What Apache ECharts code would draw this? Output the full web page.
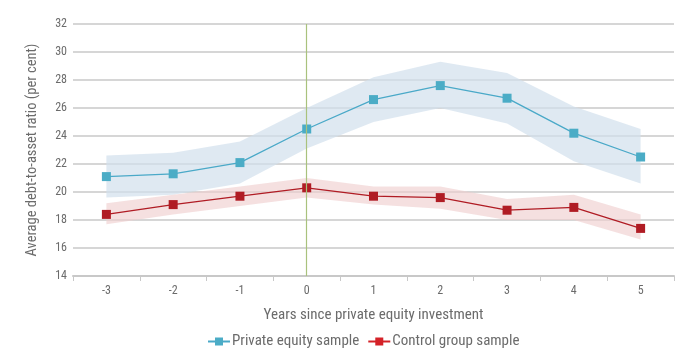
<!DOCTYPE html>
<html>
<head>
<meta charset="utf-8">
<script src="https://cdn.jsdelivr.net/npm/echarts@6/dist/echarts.min.js"></script>
<style>
  html, body { margin: 0; padding: 0; background: #fff; }
  #chart { width: 683px; height: 351px; }
</style>
</head>
<body>
<div id="chart"></div>
<script>
// Years relative to the private equity investment
const years = ['-3', '-2', '-1', '0', '1', '2', '3', '4', '5'];

// Average debt-to-asset ratio (per cent) and confidence bands
const peMean = [21.1, 21.3, 22.1, 24.5, 26.6, 27.6, 26.7, 24.2, 22.5];
const peLow  = [19.6, 19.8, 20.6, 23.1, 25.0, 26.0, 24.9, 22.2, 20.6];
const peHigh = [22.6, 22.8, 23.6, 26.0, 28.2, 29.3, 28.5, 26.1, 24.5];

const ctlMean = [18.4, 19.1, 19.7, 20.3, 19.7, 19.6, 18.7, 18.9, 17.4];
const ctlLow  = [17.7, 18.4, 19.0, 19.6, 19.1, 18.8, 18.0, 18.0, 16.6];
const ctlHigh = [19.2, 19.8, 20.4, 21.0, 20.4, 20.4, 19.5, 19.8, 18.4];

const yTicks = { min: 14, max: 32, interval: 2 };

const FONT = "'Liberation Sans Narrow', 'Roboto Condensed', Roboto, sans-serif";
const TEXT = '#6b6b6b';

function band(name, low, high, color) {
  return [
    {
      name: name + '-base', type: 'line', stack: name, data: low,
      symbol: 'none', lineStyle: { opacity: 0 }, silent: true, z: 1
    },
    {
      name: name + '-range', type: 'line', stack: name,
      data: high.map((v, i) => +(v - low[i]).toFixed(2)),
      symbol: 'none', lineStyle: { opacity: 0 },
      areaStyle: { color: color, opacity: 1 }, silent: true, z: 1
    }
  ];
}

const chart = echarts.init(document.getElementById('chart'), null, { renderer: 'canvas' });

chart.setOption({
  animation: false,
  textStyle: { fontFamily: FONT },
  grid: { left: 73, right: 9, top: 24, bottom: 75 },
  legend: {
    data: [
      { name: 'Private equity sample' },
      { name: 'Control group sample', itemStyle: { color: '#d42228' }, lineStyle: { color: '#d42228' } }
    ],
    top: 329,
    left: 202,
    itemWidth: 22,
    itemHeight: 10,
    itemGap: 8,
    textStyle: { color: TEXT, fontSize: 15, fontFamily: FONT, padding: [0, 0, 0, -3] }
  },
  xAxis: {
    type: 'category',
    data: years,
    boundaryGap: true,
    name: 'Years since private equity investment',
    nameLocation: 'middle',
    nameGap: 32,
    nameTextStyle: { color: TEXT, fontSize: 15, fontFamily: FONT },
    axisLine: { lineStyle: { color: '#c8c8c8', width: 2 } },
    axisTick: { show: true, length: 5, lineStyle: { color: '#c8c8c8', width: 1 } },
    axisLabel: { color: TEXT, fontSize: 12, margin: 9 }
  },
  yAxis: {
    type: 'value',
    min: yTicks.min, max: yTicks.max, interval: yTicks.interval,
    name: 'Average debt-to-asset ratio (per cent)',
    nameLocation: 'middle',
    nameGap: 33,
    nameRotate: 90,
    nameTextStyle: { color: TEXT, fontSize: 14.5, fontFamily: FONT },
    axisLine: { show: false },
    axisTick: { show: false },
    axisLabel: { color: TEXT, fontSize: 12, margin: 6 },
    splitLine: { lineStyle: { color: '#c8c8c8', width: 1.5 } }
  },
  series: [
    ...band('pe', peLow, peHigh, 'rgba(210,224,236,0.7)'),
    ...band('ctl', ctlLow, ctlHigh, 'rgba(240,208,208,0.65)'),
    {
      name: 'Private equity sample', type: 'line', data: peMean,
      symbol: 'rect', symbolSize: 9,
      lineStyle: { color: '#4aa9c8', width: 1.3 },
      itemStyle: { color: '#4bacc6' }, z: 3
    },
    {
      name: 'Control group sample', type: 'line', data: ctlMean,
      symbol: 'rect', symbolSize: 9,
      lineStyle: { color: '#b01c24', width: 1.3 },
      itemStyle: { color: '#b01c24' }, z: 3,
      markLine: {
        silent: true, symbol: 'none', label: { show: false },
        lineStyle: { color: '#a9c27d', width: 1.2, type: 'solid' },
        data: [{ xAxis: '0' }],
        z: 5
      }
    }
  ]
});
</script>
</body>
</html>
